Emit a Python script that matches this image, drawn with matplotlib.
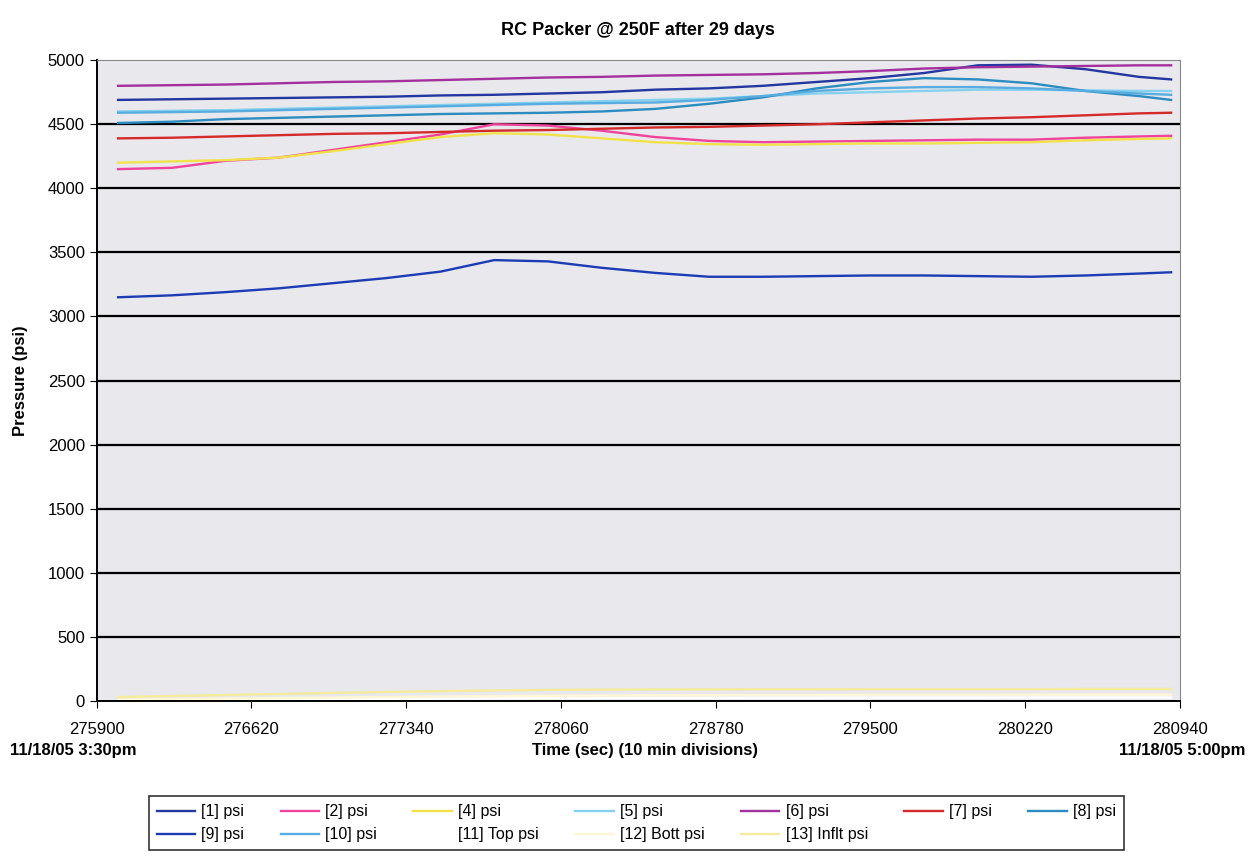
"""
RC Packer pressure log at 250F after 29 days, redrawn from a scanned chart.
"""
import matplotlib
matplotlib.use("Agg")
import matplotlib.pyplot as plt

# time samples (sec)
time_sec = [276000, 276250, 276500, 276750, 277000, 277250, 277500, 277750,
            278000, 278250, 278500, 278750, 279000, 279250, 279500, 279750,
            280000, 280250, 280500, 280750, 280900]

p1 = [4690, 4695, 4700, 4705, 4710, 4715, 4725, 4730, 4740, 4750, 4770,
      4780, 4800, 4830, 4860, 4900, 4960, 4965, 4930, 4870, 4850]
p2 = [4150, 4160, 4215, 4240, 4300, 4360, 4420, 4500, 4490, 4450, 4400,
      4370, 4360, 4365, 4370, 4375, 4380, 4380, 4395, 4405, 4410]
p4 = [4200, 4210, 4220, 4240, 4290, 4345, 4400, 4430, 4420, 4390, 4360,
      4345, 4340, 4345, 4350, 4350, 4355, 4360, 4375, 4385, 4390]
p5 = [4600, 4605, 4610, 4620, 4630, 4640, 4650, 4660, 4670, 4680, 4690,
      4700, 4720, 4740, 4750, 4760, 4770, 4770, 4765, 4760, 4760]
p6 = [4800, 4805, 4810, 4820, 4830, 4835, 4845, 4855, 4865, 4870, 4880,
      4885, 4890, 4900, 4915, 4935, 4945, 4950, 4955, 4960, 4960]
p7 = [4390, 4395, 4405, 4415, 4425, 4430, 4440, 4450, 4455, 4465, 4475,
      4480, 4490, 4500, 4515, 4530, 4545, 4555, 4570, 4585, 4590]
p8 = [4510, 4520, 4540, 4550, 4560, 4570, 4580, 4585, 4590, 4600, 4620,
      4660, 4710, 4780, 4830, 4860, 4850, 4820, 4760, 4720, 4690]
p9 = [3150, 3165, 3190, 3220, 3260, 3300, 3350, 3440, 3430, 3380, 3340,
      3310, 3310, 3315, 3320, 3320, 3315, 3310, 3320, 3335, 3345]
p10 = [4590, 4595, 4600, 4610, 4620, 4630, 4640, 4650, 4660, 4665, 4670,
       4690, 4720, 4760, 4780, 4790, 4790, 4780, 4760, 4740, 4730]
p11 = [5, 8, 10, 12, 14, 16, 18, 20, 22, 22, 24, 24, 25, 25, 26, 26, 26,
       27, 27, 27, 27]
p12 = [10, 14, 18, 22, 26, 30, 34, 38, 40, 42, 44, 45, 46, 46, 47, 47, 47,
       48, 48, 48, 48]
p13 = [30, 38, 46, 54, 62, 70, 76, 82, 86, 88, 90, 90, 91, 91, 92, 92, 92,
       92, 93, 93, 93]

labels = ["[1] psi", "[2] psi", "[4] psi", "[5] psi", "[6] psi", "[7] psi",
          "[8] psi", "[9] psi", "[10] psi", "[11] Top psi", "[12] Bott psi",
          "[13] Inflt psi"]
series = [p1, p2, p4, p5, p6, p7, p8, p9, p10, p11, p12, p13]
colors = ["#2436a0", "#f0449c", "#f2e24a", "#86d2ee", "#a4309e", "#d42a2a",
          "#2c8cc0", "#1d3cb4", "#58ace0", "#ffffff", "#fff6d6", "#f4ec9c"]

x_ticks = [275900, 276620, 277340, 278060, 278780, 279500, 280220, 280940]

plt.rcParams["font.family"] = ["Liberation Sans", "DejaVu Sans"]

fig = plt.figure(figsize=(12.55, 8.6), dpi=100)
ax = fig.add_axes([0.077, 0.185, 0.863, 0.745])
ax.set_facecolor("#e8e8ed")

for yv in range(500, 5000, 500):
    ax.axhline(yv, color="black", lw=1.6, zorder=1)

lines = {}
for lab, vals, c in zip(labels, series, colors):
    ln, = ax.plot(time_sec, vals, color=c, lw=1.7, zorder=2, label=lab)
    lines[lab] = ln

ax.set_xlim(275900, 280940)
ax.set_ylim(0, 5000)
ax.set_xticks(x_ticks)
ax.set_xticklabels([str(t) for t in x_ticks])
ax.set_yticks(range(0, 5001, 500))
ax.tick_params(labelsize=12, length=5, direction="out")
ax.tick_params(axis="x", pad=10)
for s in ["left", "bottom"]:
    ax.spines[s].set_color("black")
    ax.spines[s].set_linewidth(1.4)
for s in ["top", "right"]:
    ax.spines[s].set_color("#888888")
    ax.spines[s].set_linewidth(0.8)

ax.set_title("RC Packer @ 250F after 29 days", fontsize=13, fontweight="bold",
             pad=18)
ax.set_ylabel("Pressure (psi)", fontsize=12, fontweight="bold", labelpad=14)

fig.text(0.008, 0.122, "11/18/05 3:30pm", fontsize=12, fontweight="bold")
fig.text(0.514, 0.122, "Time (sec) (10 min divisions)", fontsize=12,
         fontweight="bold", ha="center")
fig.text(0.992, 0.122, "11/18/05 5:00pm", fontsize=12, fontweight="bold",
         ha="right")

# matplotlib fills legend columns first, so reorder to get two rows
order = ["[1] psi", "[9] psi", "[2] psi", "[10] psi", "[4] psi",
         "[11] Top psi", "[5] psi", "[12] Bott psi", "[6] psi",
         "[13] Inflt psi", "[7] psi", "[8] psi"]
leg = fig.legend([lines[k] for k in order], order, ncol=7,
                 loc="lower left", bbox_to_anchor=(0.112, 0.002, 0.79, 0.08),
                 mode="expand", fontsize=11.5, frameon=True, fancybox=False,
                 edgecolor="black", handlelength=2.4, handletextpad=0.4,
                 borderpad=0.5, labelspacing=0.5)
leg.get_frame().set_linewidth(1.2)

fig.savefig("out.png", dpi=100)
